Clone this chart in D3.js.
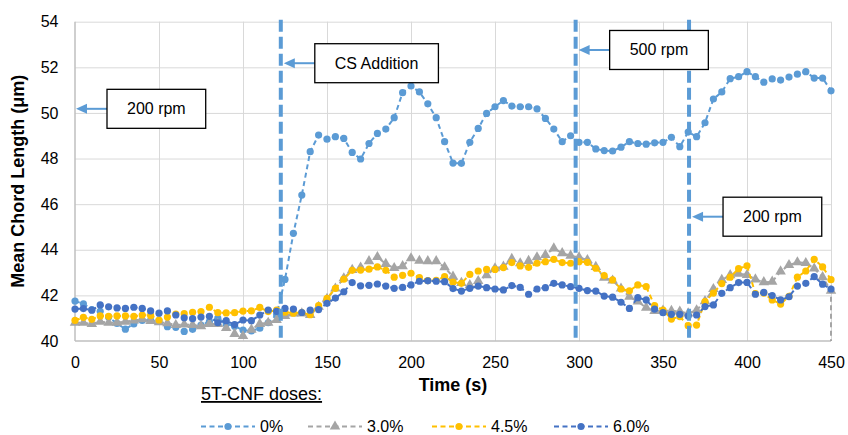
<!DOCTYPE html>
<html><head><meta charset="utf-8">
<script src="https://cdn.jsdelivr.net/npm/d3@7"></script>
<style>
body{margin:0;background:#fff;}
svg{display:block;font-family:"Liberation Sans",Arial,sans-serif;}
</style></head><body>
<svg id="c" width="848" height="435"></svg>
<script>
// ---------- data ----------
const times = d3.range(0, 455, 5); // 0..450 s, 5 s sampling
const s0 = [
 41.75,41.63,41.38,41.30,41.05,40.77,40.52,40.75,40.90,40.90,
 40.88,40.63,40.60,40.42,40.51,40.70,40.85,41.00,40.75,40.65,
 40.48,40.44,40.56,40.80,41.15,42.70,44.72,46.40,48.30,49.03,
 48.85,48.96,48.88,48.27,47.98,48.66,49.10,49.29,49.79,50.89,
 51.18,50.92,50.40,49.79,48.74,47.80,47.79,48.71,49.32,49.98,
 50.27,50.54,50.30,50.27,50.27,50.18,49.76,49.29,48.74,49.00,
 48.71,48.71,48.42,48.35,48.33,48.50,48.74,48.66,48.63,48.69,
 48.71,48.93,48.52,49.16,48.96,49.57,50.61,50.92,51.50,51.59,
 51.81,51.59,51.35,51.49,51.44,51.57,51.70,51.81,51.53,51.53,
 50.97];
const s30 = [
 40.80,40.80,40.75,40.85,40.80,40.80,40.85,40.90,40.95,40.88,
 40.82,40.78,40.70,40.72,40.70,40.65,40.75,40.75,40.57,40.31,
 40.22,40.50,40.75,40.80,40.92,41.10,41.21,41.21,41.14,41.50,
 41.85,42.30,42.75,43.12,43.22,43.50,43.68,43.38,43.20,43.28,
 43.63,43.52,43.50,43.50,43.23,42.82,42.55,42.45,42.63,42.89,
 43.19,43.26,43.60,43.41,43.51,43.67,43.77,44.06,43.85,43.74,
 43.67,43.55,43.25,42.78,42.65,42.30,41.94,41.73,41.46,41.32,
 41.33,41.32,41.29,41.21,41.35,41.75,42.28,42.68,42.89,42.95,
 42.90,42.70,42.58,42.60,43.05,43.33,43.45,43.42,43.18,42.80,
 42.20];
const s30Tail = [[450, 0]]; // series drops off the axis after the last reading
const s45 = [
 40.90,41.04,40.95,41.10,41.08,41.10,41.10,41.08,41.14,41.12,
 40.92,41.05,41.18,41.20,41.26,41.29,41.48,41.24,41.23,41.24,
 41.31,41.32,41.47,41.29,41.35,41.26,41.22,41.25,41.15,41.55,
 41.87,42.31,42.71,43.10,43.11,43.15,43.25,43.10,42.80,42.88,
 42.97,42.78,42.65,42.66,42.82,42.58,42.53,42.92,43.07,43.14,
 43.14,43.22,43.44,43.29,43.23,43.41,43.48,43.58,43.44,43.41,
 43.48,43.45,43.19,42.87,42.68,42.28,42.20,42.46,42.38,41.55,
 41.36,40.96,41.07,40.67,40.70,41.73,42.10,42.52,42.80,43.17,
 43.30,42.08,42.10,41.80,41.62,41.96,42.80,43.07,43.58,43.25,
 42.69];
const s60 = [
 41.40,41.42,41.35,41.58,41.50,41.45,41.43,41.48,41.43,41.32,
 41.22,41.32,41.14,41.02,40.98,41.05,41.08,40.80,40.89,40.72,
 40.92,40.89,41.14,41.36,41.30,41.43,41.40,41.25,41.35,41.38,
 41.65,41.88,42.16,42.56,42.42,42.44,42.50,42.41,42.31,42.35,
 42.46,42.62,42.64,42.62,42.60,42.30,42.19,42.31,42.41,42.34,
 42.28,42.24,42.43,42.35,42.05,42.28,42.34,42.53,42.46,42.38,
 42.31,42.21,42.19,41.97,41.92,41.70,41.43,41.90,41.80,41.40,
 41.24,41.17,41.17,41.10,41.14,41.51,41.58,42.09,42.34,42.56,
 42.57,42.05,42.13,41.99,41.80,41.94,42.41,42.53,42.82,42.49,
 42.28];
const seriesNames = ["0%", "3.0%", "4.5%", "6.0%"];
const xTicks = [0, 50, 100, 150, 200, 250, 300, 350, 400, 450];
const yTicks = [40, 42, 44, 46, 48, 50, 52, 54];
const eventTimes = [122.5, 298, 365.5];
const noteLabels = ["200 rpm", "CS Addition", "500 rpm", "200 rpm"];
const noteTimes = [0, 122.5, 298, 365.5];
const noteValues = [50.18, 52.18, 52.76, 45.45];
const legendTitle = "5T-CNF doses:";
const xTitle = "Time (s)";
const yTitle = "Mean Chord Length (μm)";

// ---------- styles ----------
const colors = ["#5B9BD5", "#A5A5A5", "#FFC000", "#4472C4"];
const shapes = ["circle", "triangle", "circle", "circle"];

const svg = d3.select("#c");
const X0 = 75, X1 = 831, Y0 = 341, Y1 = 21.7;
const x = d3.scaleLinear().domain([0, 450]).range([X0, X1]);
const y = d3.scaleLinear().domain([40, 54]).range([Y0, Y1]);

// gridlines
svg.append("g").attr("transform", `translate(0,${Y0})`)
  .call(d3.axisBottom(x).tickValues(xTicks.slice(1)).tickSize(-(Y0 - Y1)).tickFormat(""))
  .call(g => g.select(".domain").remove())
  .selectAll("line").attr("stroke", "#D9D9D9").attr("stroke-width", 1);
svg.append("g").attr("transform", `translate(${X0},0)`)
  .call(d3.axisLeft(y).tickValues(yTicks.slice(1)).tickSize(-(X1 - X0)).tickFormat(""))
  .call(g => g.select(".domain").remove())
  .selectAll("line").attr("stroke", "#D9D9D9").attr("stroke-width", 1);

// axis lines
svg.append("line").attr("x1", X0).attr("x2", X0).attr("y1", Y1).attr("y2", Y0)
  .attr("stroke", "#BFBFBF").attr("stroke-width", 1.5);
svg.append("line").attr("x1", X0).attr("x2", X1).attr("y1", Y0).attr("y2", Y0)
  .attr("stroke", "#BFBFBF").attr("stroke-width", 1.5);

// tick labels
const xa = svg.append("g").attr("transform", `translate(0,${Y0})`)
  .call(d3.axisBottom(x).tickValues(xTicks).tickSize(0).tickPadding(15.5).tickFormat(d3.format("d")));
xa.select(".domain").remove();
xa.selectAll("text").attr("font-size", 16).attr("fill", "#000").attr("font-family", "Liberation Sans, Arial, sans-serif");
const ya = svg.append("g").attr("transform", `translate(${X0},0)`)
  .call(d3.axisLeft(y).tickValues(yTicks).tickSize(0).tickPadding(16.5).tickFormat(d3.format("d")));
ya.select(".domain").remove();
ya.selectAll("text").attr("font-size", 16).attr("fill", "#000").attr("font-family", "Liberation Sans, Arial, sans-serif");

// axis titles
svg.append("text").attr("x", (X0 + X1) / 2).attr("y", 391).attr("text-anchor", "middle")
  .attr("font-size", 18).attr("font-weight", "bold").text(xTitle);
svg.append("text").attr("transform", `translate(24,${(Y0 + Y1) / 2}) rotate(-90)`)
  .attr("text-anchor", "middle").attr("font-size", 18).attr("font-weight", "bold").text(yTitle);

// clip
svg.append("clipPath").attr("id", "clip").append("rect")
  .attr("x", X0 - 12).attr("y", Y1 - 12).attr("width", X1 - X0 + 24).attr("height", Y0 - Y1 + 12);

const plot = svg.append("g").attr("clip-path", "url(#clip)");
const line = d3.line().x(d => x(d[0])).y(d => y(d[1]));
const triangle = d3.symbol().type(d3.symbolTriangle).size(48);

const allSeries = [s0, s30, s45, s60];
allSeries.forEach((vals, i) => {
  let pts = times.map((t, k) => [t, vals[k]]);
  if (i === 1) pts = pts.concat(s30Tail);
  const g = plot.append("g");
  g.append("path").attr("d", line(pts)).attr("fill", "none")
    .attr("stroke", colors[i]).attr("stroke-width", 2).attr("stroke-dasharray", "5,3.5");
  if (shapes[i] === "circle") {
    g.selectAll("circle").data(pts).join("circle")
      .attr("cx", d => x(d[0])).attr("cy", d => y(d[1])).attr("r", 3.6).attr("fill", colors[i]);
  } else {
    g.selectAll("path.m").data(pts).join("path").attr("class", "m")
      .attr("transform", d => `translate(${x(d[0])},${y(d[1])})`).attr("d", triangle).attr("fill", colors[i]);
  }
});

// event lines
svg.selectAll("line.ev").data(eventTimes).join("line").attr("class", "ev")
  .attr("x1", d => x(d)).attr("x2", d => x(d)).attr("y1", Y1 - 2).attr("y2", Y0)
  .attr("stroke", "#5B9BD5").attr("stroke-width", 4).attr("stroke-dasharray", "12,5");

// annotations
noteLabels.forEach((lab, i) => {
  const tipX = x(noteTimes[i]) + (noteTimes[i] === 0 ? 1 : 3);
  const cy = y(noteValues[i]);
  const boxL = tipX + 31;
  const g = svg.append("g");
  const t = g.append("text").attr("font-size", 16).attr("fill", "#000")
    .attr("dominant-baseline", "central").attr("text-anchor", "middle").text(lab);
  const w = t.node().getComputedTextLength() + 40;
  t.attr("x", boxL + w / 2).attr("y", cy);
  g.insert("rect", "text").attr("x", boxL).attr("y", cy - 19.5).attr("width", w).attr("height", 39)
    .attr("fill", "#fff").attr("stroke", "#000").attr("stroke-width", 1.3);
  g.insert("line", "rect").attr("x1", boxL).attr("x2", tipX + 9).attr("y1", cy).attr("y2", cy)
    .attr("stroke", "#5B9BD5").attr("stroke-width", 2);
  g.append("path").attr("d", `M${tipX},${cy} L${tipX + 11},${cy - 5} L${tipX + 11},${cy + 5} Z`)
    .attr("fill", "#5B9BD5");
});

// legend
svg.append("text").attr("x", 201).attr("y", 400).attr("font-size", 18)
  .attr("text-decoration", "underline").attr("fill", "#000").text(legendTitle);
const legX = [201, 308, 432, 554];
seriesNames.forEach((name, i) => {
  const lx = legX[i], ly = 426.5;
  const g = svg.append("g");
  g.append("line").attr("x1", lx).attr("x2", lx + 54).attr("y1", ly).attr("y2", ly)
    .attr("stroke", colors[i]).attr("stroke-width", 2).attr("stroke-dasharray", "5,3.5");
  if (shapes[i] === "circle") {
    g.append("circle").attr("cx", lx + 27).attr("cy", ly).attr("r", 3.6).attr("fill", colors[i]);
  } else {
    g.append("path").attr("transform", `translate(${lx + 27},${ly})`).attr("d", triangle).attr("fill", colors[i]);
  }
  g.append("text").attr("x", lx + 59).attr("y", ly).attr("dominant-baseline", "central")
    .attr("font-size", 16).attr("fill", "#000").text(name);
});
</script>
</body></html>
